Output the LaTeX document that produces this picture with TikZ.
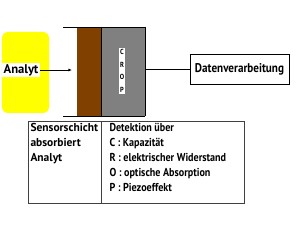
\documentclass[tikz,border=0pt]{standalone}
\usepackage{fontspec}
\setmainfont{PT Sans}[FakeStretch=0.88]
\newfontfamily\boxfont{PT Sans}[FakeStretch=1.0]
\usetikzlibrary{arrows.meta,positioning}
\definecolor{sensorbrown}{RGB}{128,64,0}
\definecolor{cropgray}{RGB}{128,128,128}
\definecolor{analytyellow}{RGB}{255,255,0}
\tikzset{
  txt/.style={font=\bfseries\fontsize{9.8}{12.8}\selectfont, inner sep=1pt},
  bigtxt/.style={font=\boxfont\bfseries\fontsize{10.8}{13}\selectfont, inner sep=1pt},
  boxline/.style={draw=black!75, line width=0.6pt}
}

\begin{document}
\begin{tikzpicture}[>=Latex, x=0.03cm, y=-0.03cm, line width=0.6pt]
  \useasboundingbox (0,0) rectangle (300,227);
  % analyte blob
  \fill[analytyellow, rounded corners=5pt] (2,32) rectangle (49,113);
  \node[bigtxt, fill=white] (analyt) at (21,70) {Analyt};
  % sensor: coating + transducer
  \fill[sensorbrown] (77,27) rectangle (101,116);
  \fill[cropgray] (101,27) rectangle (145,116);
  \draw (63,27) -- (145,27);
  \draw (63,116) -- (145,116);
  \draw[thin] (101,27) -- (101,116);
  \draw (145,27) -- (145,116);
  \node[font=\bfseries\fontsize{6.3}{10.8}\selectfont, fill=white, inner sep=1pt,
        align=center] (crop) at (122,71) {C\\R\\O\\P};
  \coordinate (sensin) at (72,70);
  \coordinate (sensout) at (145,69);
  \draw[->, >={Latex[length=3pt,width=2.5pt]}] (analyt) -- (sensin);
  % output
  \node[font=\bfseries\fontsize{10.8}{13}\selectfont, draw, inner sep=1pt,
        minimum width=99*0.03cm, minimum height=30*0.03cm]
    (daten) at (239.5,69) {Datenverarbeitung};
  \draw (sensout) -- (daten);
  % legend table
  \draw[boxline] (28,121) rectangle (244,203);
  \draw[boxline] (101,121) -- (101,203);
  \node[txt, font=\boxfont\bfseries\fontsize{9.8}{12.8}\selectfont,
        anchor=north west, align=left] (schicht) at (29,121.5)
    {Sensorschicht\\absorbiert\\Analyt};
  \node[txt, anchor=north west, align=left] (detekt) at (108,121.5)
    {Detektion über\\C : Kapazität\\R : elektrischer Widerstand\\O : optische Absorption\\P : Piezoeffekt};
\end{tikzpicture}
\end{document}
